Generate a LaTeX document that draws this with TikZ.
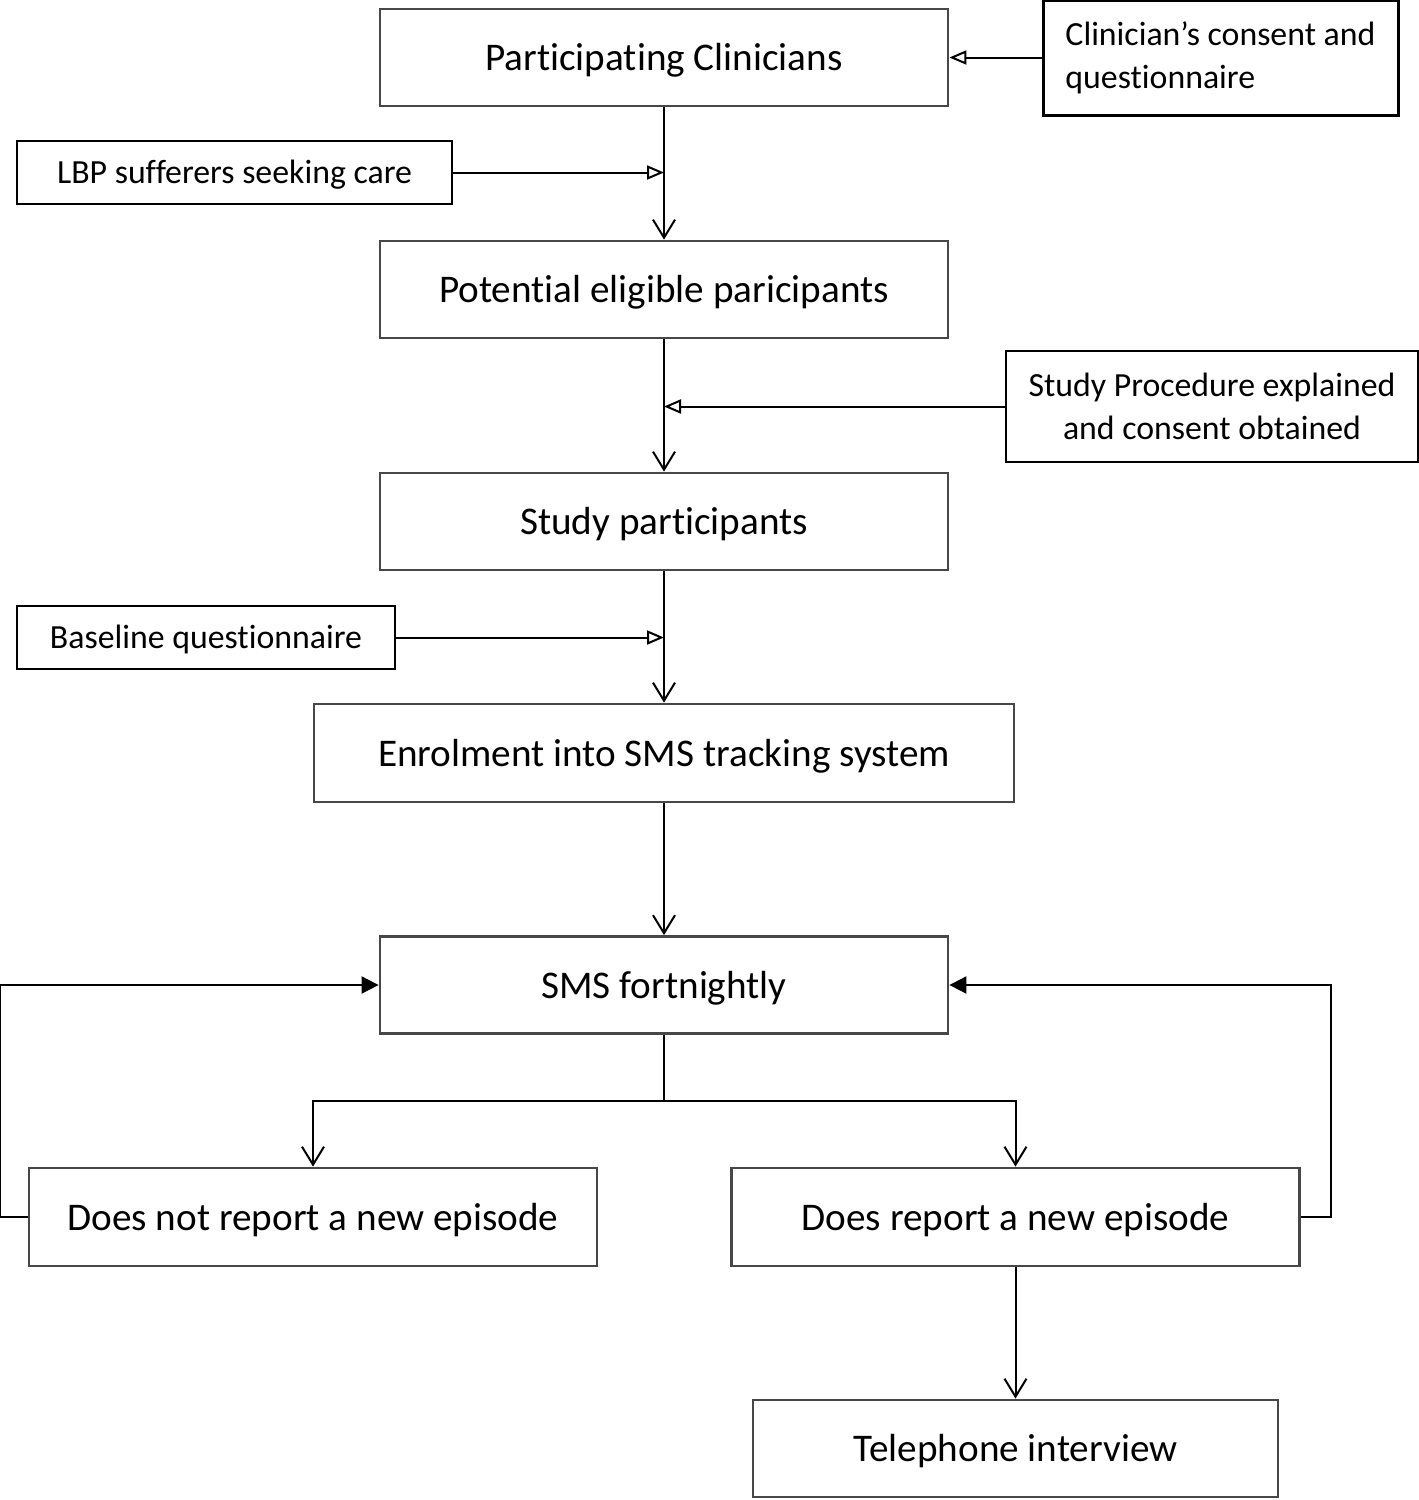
\documentclass[tikz,border=0pt]{standalone}
\usepackage{fontspec}
\setmainfont{Carlito}[Ligatures=NoCommon]
\usetikzlibrary{arrows.meta}
\begin{document}
\begin{tikzpicture}[x=0.5pt,y=-0.5pt,
  mainbox/.style={draw=black!72,line width=1.4pt,inner sep=0pt,minimum width=284pt,minimum height=48.5pt,text height=17pt,text depth=4pt,font=\fontsize{19.6}{23}\selectfont},
  sidebox/.style={draw=black,line width=1.1pt,inner sep=0pt,font=\fontsize{16.9}{21.5}\selectfont},
  oneline/.style={text height=15pt,text depth=4pt},
  conn/.style={line width=1pt},
  vee/.style={conn,-{Straight Barb[length=9pt,width=11pt,line width=1pt]}},
  opentri/.style={conn,-{Triangle[open,length=8.5pt,width=7pt,line width=1pt]}},
  filltri/.style={conn,-{Triangle[length=8.5pt,width=8.5pt]}}]
\useasboundingbox (0,0) rectangle (1419,1500);
\node[mainbox] (pc) at (664,57.5) {Participating Clinicians};
\node[sidebox,line width=1.5pt,align=left,minimum width=177.5pt,minimum height=57.5pt] (cons) at (1220.5,57.5) {Clinician’s consent and\\questionnaire};
\node[sidebox,oneline,minimum width=217.5pt,minimum height=31.5pt] (lbp) at (234.5,172.5) {LBP sufferers seeking care};
\node[mainbox] (pep) at (664,289.5) {Potential eligible paricipants};
\node[sidebox,align=center,minimum width=206pt,minimum height=55.5pt] (proc) at (1212,406.5) {Study Procedure explained\\and consent obtained};
\node[mainbox] (sp) at (664,521.5) {Study participants};
\node[sidebox,oneline,minimum width=189pt,minimum height=31.5pt] (base) at (206,637.5) {Baseline questionnaire};
\node[mainbox,minimum width=350pt,minimum height=49pt] (enr) at (664,753) {Enrolment into SMS tracking system};
\node[mainbox] (sms) at (664,985) {SMS fortnightly};
\node[mainbox,minimum height=49pt] (dnr) at (313,1217) {Does not report a new episode};
\node[mainbox,minimum height=49pt] (dr) at (1015.5,1217) {Does report a new episode};
\node[mainbox,minimum width=262.5pt] (tel) at (1015.5,1448.5) {Telephone interview};
\coordinate (br) at (664,1101);
% connectors
\draw[opentri] (cons.west) -- (pc.east);
\draw[vee] (pc.south) -- (pep.north);
\draw[opentri] (lbp.east) -- (lbp.east -| pc.south);
\draw[vee] (pep.south) -- (sp.north);
\draw[opentri] (proc.west) -- (proc.west -| pep.south);
\draw[vee] (sp.south) -- (enr.north);
\draw[opentri] (base.east) -- (base.east -| sp.south);
\draw[vee] (enr.south) -- (sms.north);
\draw[conn] (sms.south) -- (br);
\draw[vee] (br) -| (dnr.north);
\draw[vee] (br) -| (dr.north);
\draw[filltri] (dnr.west) -- ++(-28,0) |- (sms.west);
\draw[filltri] (dr.east) -- ++(30,0) |- (sms.east);
\draw[vee] (dr.south) -- (tel.north);
\end{tikzpicture}
\end{document}
